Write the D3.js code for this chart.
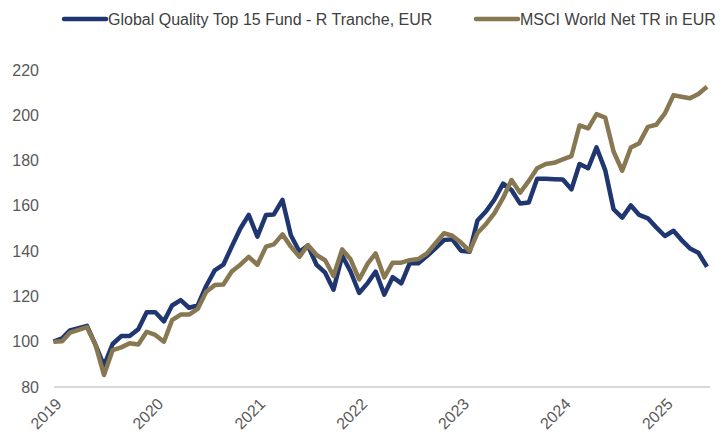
<!DOCTYPE html>
<html lang="en">
<head>
    <meta charset="UTF-8">
    <title>Global Quality Top 15 vs MSCI World</title>
    <style>
        body { margin: 0; background: #fff; }
        svg { display: block; font-family: "Liberation Sans", Arial, sans-serif; }
    </style>
</head>
<body>
<svg width="728" height="436"></svg>
<script src="https://d3js.org/d3.v7.min.js"></script>
<script>
    // monthly values, Jan 2019 .. Jun 2025 (rebased to 100)
    var fundName = "Global Quality Top 15 Fund - R Tranche, EUR"
    var indexName = "MSCI World Net TR in EUR"

    var fund = [100, 101.5, 105, 106, 107, 98.5, 89.5, 99, 102.5, 102.5, 105.5, 113,
        113, 109, 116, 118.4, 115, 116, 124.5, 131.5, 134, 142, 150, 156,
        146.4, 156, 156.2, 162.6, 147, 139.7, 142.5, 134, 130.5, 123, 138, 131,
        121.5, 126, 131, 120.8, 128.5, 125.8, 134.6, 134.6, 137.8, 141.2, 144.9, 145.2,
        140.2, 139.7, 153.5, 157.6, 162.8, 169.8, 167, 161, 161.5, 172, 172, 171.8,
        171.6, 167.3, 178.5, 176.6, 185.8, 175.8, 158.5, 154.8, 160.2, 156, 154.5, 150.5,
        146.7, 149, 145, 141.2, 139.3, 133.1]

    var msci = [100, 100.2, 104, 105.2, 106.4, 98.5, 85.3, 96.3, 97.5, 99.3, 98.8, 104.4,
        103, 100, 109.5, 112, 112, 114.5, 122, 125, 125.3, 131, 134, 137.5,
        134, 142, 143, 147.4, 142, 137.5, 142.7, 138.3, 136, 129, 140.8, 136.4,
        127.5, 134.6, 139, 128.4, 134.9, 134.9, 136, 136.5, 139, 143.4, 147.9, 146.8,
        143.8, 140, 148, 152, 156.8, 163.5, 171.4, 165.8, 171, 176.6, 178.5, 179,
        180.5, 182, 195.5, 194.2, 200.5, 199, 184, 175.5, 185.8, 187.7, 194.9, 195.8,
        200.8, 208.9, 208.2, 207.5, 209.4, 212.6]

    var yTicks = [80, 100, 120, 140, 160, 180, 200, 220]
    var yearTicks = [2019, 2020, 2021, 2022, 2023, 2024, 2025]

    var navy = "#1f3670"
    var gold = "#877852"

    var svg = d3.select("svg")

    var dates = fund.map((v, i) => new Date(2019, i, 1))

    var x = d3.scaleTime()
        .domain([dates[0], dates[dates.length - 1]])
        .range([53.5, 707])

    var y = d3.scaleLinear()
        .domain([80, 220])
        .range([387, 70])

    // baseline at 80
    svg.append("line")
        .attr("x1", 54)
        .attr("x2", 710)
        .attr("y1", y(80))
        .attr("y2", y(80))
        .style("stroke", "#d9d9d9")
        .style("stroke-width", 2)

    // y labels
    svg.append("g")
        .selectAll("text")
        .data(yTicks)
        .enter().append("text")
        .attr("x", 39)
        .attr("y", d => y(d))
        .attr("dy", "0.35em")
        .attr("text-anchor", "end")
        .style("font-size", "16px")
        .style("fill", "#595959")
        .text(d => d)

    // x labels, rotated
    svg.append("g")
        .selectAll("text")
        .data(yearTicks)
        .enter().append("text")
        .attr("transform", d => "translate(" + (x(new Date(d, 0, 1)) + 9) + "," + 405 + ") rotate(-45)")
        .attr("text-anchor", "end")
        .style("font-size", "16px")
        .style("fill", "#595959")
        .text(d => d)

    var line = d3.line()
        .x((d, i) => x(dates[i]))
        .y(d => y(d))

    svg.append("path")
        .datum(fund)
        .attr("d", line)
        .style("fill", "none")
        .style("stroke", navy)
        .style("stroke-width", 4.5)
        .style("stroke-linejoin", "round")

    svg.append("path")
        .datum(msci)
        .attr("d", line)
        .style("fill", "none")
        .style("stroke", gold)
        .style("stroke-width", 4.5)
        .style("stroke-linejoin", "round")

    // legend
    var legend = [
        {name: fundName, color: navy, x: 64},
        {name: indexName, color: gold, x: 476}
    ]

    var lg = svg.append("g").selectAll("g")
        .data(legend)
        .enter().append("g")
        .attr("transform", d => "translate(" + d.x + ",19)")

    lg.append("line")
        .attr("x1", 0)
        .attr("x2", 42)
        .style("stroke", d => d.color)
        .style("stroke-width", 4.5)
        .style("stroke-linecap", "round")

    lg.append("text")
        .attr("x", 44)
        .attr("dy", "0.35em")
        .style("font-size", "16px")
        .style("fill", "#404040")
        .text(d => d.name)
</script>
</body>
</html>
